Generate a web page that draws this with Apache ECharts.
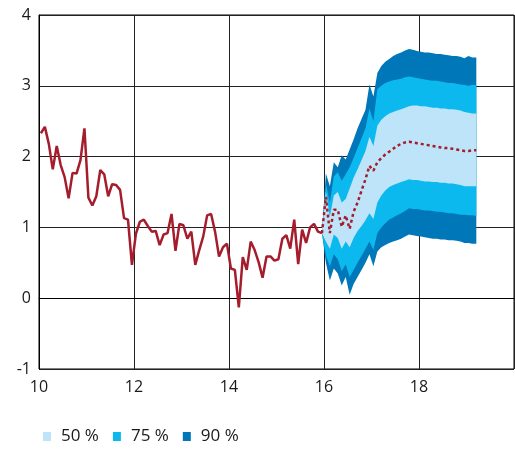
<!DOCTYPE html>
<html>
<head>
<meta charset="utf-8">
<script src="https://cdn.jsdelivr.net/npm/echarts@6/dist/echarts.min.js"></script>
<style>
  html, body { margin: 0; padding: 0; background: #fff; }
  #chart { width: 515px; height: 449px; }
</style>
</head>
<body>
<div id="chart"></div>
<script>
// Monthly observations, x = year - 2000 (mid-month)
const firstX = 10.04;
const histValues = [2.33,2.42,2.18,1.82,2.15,1.88,1.71,1.41,1.77,1.76,
  1.95,2.40,1.42,1.31,1.44,1.81,1.75,1.44,1.61,1.60,
  1.53,1.13,1.11,0.47,0.91,1.08,1.11,1.02,0.94,0.95,
  0.75,0.90,0.92,1.19,0.67,1.05,1.03,0.84,0.94,0.47,
  0.68,0.87,1.17,1.19,0.94,0.59,0.72,0.77,0.42,0.40,
  -0.13,0.58,0.40,0.80,0.68,0.51,0.29,0.59,0.59,0.53,
  0.55,0.84,0.89,0.70,1.11,0.48,0.97,0.78,1.00,1.05,
  0.94,0.92];

// Forecast (starts at last observation)
const median = [0.92,1.43,0.92,1.25,1.25,1.01,1.17,0.98,1.22,1.35,
  1.52,1.68,1.87,1.80,1.92,1.98,2.03,2.07,2.11,2.15,
  2.18,2.20,2.21,2.20,2.19,2.18,2.17,2.16,2.15,2.14,
  2.13,2.12,2.12,2.11,2.10,2.09,2.08,2.08,2.09,2.09];
const upper90 = [0.92,1.76,1.58,1.92,1.85,2.02,1.96,2.10,2.24,2.40,
  2.53,2.66,3.02,2.85,3.18,3.28,3.34,3.38,3.42,3.45,
  3.47,3.50,3.52,3.51,3.49,3.48,3.47,3.47,3.46,3.45,
  3.45,3.44,3.43,3.42,3.42,3.41,3.39,3.42,3.40,3.40];
const upper75 = [0.92,1.62,1.35,1.72,1.78,1.66,1.75,1.85,1.98,2.12,
  2.26,2.40,2.68,2.50,2.95,3.00,3.04,3.06,3.08,3.09,
  3.10,3.12,3.13,3.12,3.11,3.10,3.09,3.08,3.07,3.07,
  3.06,3.05,3.04,3.04,3.03,3.02,3.01,3.00,3.01,3.01];
const upper50 = [0.92,1.50,1.15,1.45,1.50,1.35,1.40,1.55,1.70,1.82,
  1.95,2.08,2.28,2.15,2.44,2.52,2.57,2.61,2.63,2.65,
  2.67,2.69,2.71,2.72,2.72,2.71,2.71,2.70,2.69,2.69,
  2.68,2.68,2.67,2.67,2.66,2.65,2.63,2.62,2.61,2.61];
const lower50 = [0.92,0.80,0.70,0.90,0.85,0.70,0.80,0.72,0.85,0.95,
  1.02,1.10,1.20,1.12,1.35,1.45,1.52,1.57,1.60,1.62,
  1.64,1.66,1.68,1.67,1.67,1.66,1.65,1.65,1.64,1.64,
  1.63,1.63,1.62,1.62,1.61,1.60,1.58,1.58,1.58,1.58];
const lower75 = [0.92,0.60,0.45,0.62,0.55,0.38,0.48,0.30,0.40,0.50,
  0.60,0.70,0.80,0.68,0.92,1.00,1.06,1.11,1.14,1.17,
  1.20,1.23,1.27,1.26,1.26,1.25,1.24,1.24,1.23,1.22,
  1.22,1.21,1.20,1.20,1.19,1.18,1.18,1.17,1.17,1.16];
const lower90 = [0.92,0.50,0.25,0.42,0.35,0.18,0.30,0.05,0.20,0.30,
  0.40,0.50,0.62,0.45,0.66,0.72,0.75,0.78,0.80,0.82,
  0.84,0.87,0.90,0.89,0.88,0.87,0.86,0.85,0.84,0.84,
  0.83,0.83,0.82,0.82,0.81,0.80,0.78,0.78,0.77,0.77];

const legendNames = ['50 %', '75 %', '90 %'];
const xTicks = [10, 12, 14, 16, 18, 20];

const colors = { c50: '#bde4f8', c75: '#0cb9ef', c90: '#0077b8', red: '#a51d2d' };

const histX = histValues.map((_, i) => firstX + i / 12);
const fcX = median.map((_, k) => firstX + (histValues.length - 1 + k) / 12);

const pairs = (xs, ys) => ys.map((v, i) => [xs[i], v]);

const bandSeries = (name, lower, upper, color, z) => ({
  name: name,
  type: 'custom',
  coordinateSystem: 'cartesian2d',
  data: pairs(fcX, median),
  encode: { x: 0, y: 1 },
  clip: true,
  silent: true,
  z: z,
  itemStyle: { color: color },
  renderItem: function (params, api) {
    if (params.dataIndex !== 0) return null;
    const pts = [];
    for (let i = 0; i < fcX.length; i++) pts.push(api.coord([fcX[i], upper[i]]));
    for (let i = fcX.length - 1; i >= 0; i--) pts.push(api.coord([fcX[i], lower[i]]));
    return { type: 'polygon', shape: { points: pts }, style: { fill: color, stroke: null } };
  }
});

const chart = echarts.init(document.getElementById('chart'), null, { renderer: 'canvas' });
chart.setOption({
  animation: false,
  textStyle: { fontFamily: 'Open Sans' },
  grid: { left: 39, right: 1, top: 15, bottom: 80, show: true, borderColor: '#000', borderWidth: 1, backgroundColor: 'transparent' },
  legend: {
    data: legendNames.map((n, i) => ({ name: n, itemStyle: { color: [colors.c50, colors.c75, colors.c90][i] } })),
    left: 43, top: 428, padding: 0,
    icon: 'rect', itemWidth: 8, itemHeight: 9, itemGap: 14,
    selectedMode: false,
    textStyle: { fontSize: 17, color: '#1a1a1a', fontFamily: 'Open Sans', padding: [0, 0, 0, 5] }
  },
  xAxis: {
    type: 'value', min: xTicks[0], max: xTicks[xTicks.length - 1], interval: 2,
    axisLine: { show: true, lineStyle: { color: '#000', width: 1 } },
    axisTick: { show: false },
    splitLine: { show: true, lineStyle: { color: '#222', width: 1 } },
    axisLabel: { fontSize: 16, color: '#1a1a1a', margin: 10, showMaxLabel: false }
  },
  yAxis: {
    type: 'value', min: -1, max: 4, interval: 1,
    axisLine: { show: true, lineStyle: { color: '#000', width: 1 } },
    axisTick: { show: false },
    splitLine: { show: true, lineStyle: { color: '#222', width: 1 } },
    axisLabel: { fontSize: 16, color: '#1a1a1a', margin: 8 }
  },
  series: [
    bandSeries('90 %', lower90, upper90, colors.c90, 2),
    bandSeries('75 %', lower75, upper75, colors.c75, 3),
    bandSeries('50 %', lower50, upper50, colors.c50, 4),
    {
      name: 'median', type: 'line', data: pairs(fcX, median), symbol: 'none',
      lineStyle: { color: colors.red, width: 2.5, type: [3, 3] }, z: 6, silent: true
    },
    {
      name: 'history', type: 'line', data: pairs(histX, histValues), symbol: 'none',
      lineStyle: { color: colors.red, width: 2.5 }, z: 6, silent: true
    }
  ]
});
</script>
</body>
</html>
